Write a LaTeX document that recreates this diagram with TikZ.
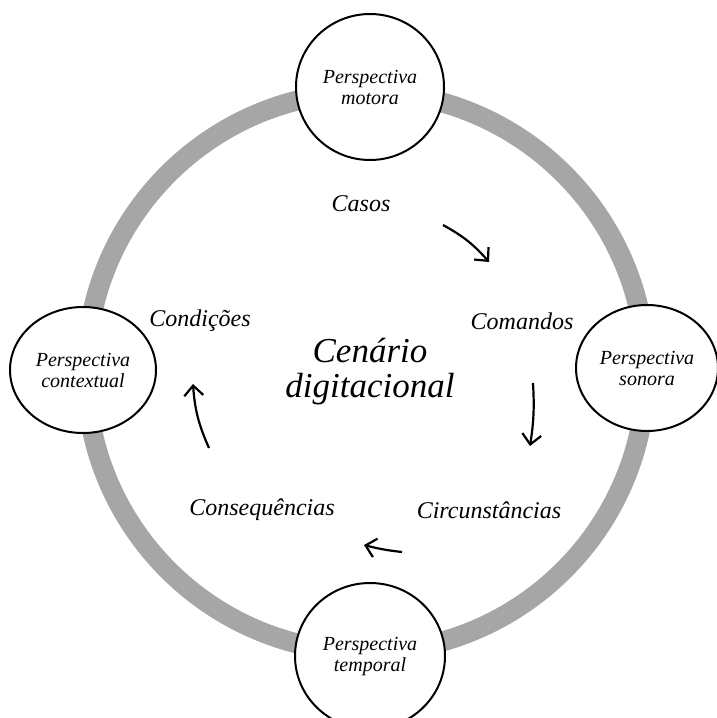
\documentclass[tikz,border=0pt]{standalone}
\usepackage{fontspec}
\setmainfont{Liberation Serif}
\usetikzlibrary{shapes.geometric,arrows.meta}
\definecolor{ringgray}{HTML}{A6A6A6}
\tikzset{
  persp/.style={ellipse, draw=black, line width=2pt, fill=white, inner sep=0pt,
    align=center, font=\fontsize{20}{21}\selectfont\itshape},
  lbl/.style={font=\fontsize{24}{26}\selectfont\itshape, inner sep=0pt},
  flow/.style={line width=2.2pt, -{Straight Barb[length=10pt,width=19pt,line width=2.2pt]}}
}
\begin{document}
\begin{tikzpicture}[x=1pt,y=-1pt]
\useasboundingbox (0,0) rectangle (717,718);
\draw[ringgray, line width=20pt] (366,372) ellipse [x radius=280, y radius=280];
\node[persp, minimum width=148pt, minimum height=146pt] (top) at (370,87) {Perspectiva\\motora};
\node[persp, minimum width=146pt, minimum height=126pt] (left) at (83,370) {Perspectiva\\contextual};
\node[persp, minimum width=142pt, minimum height=126pt] (right) at (647,368) {Perspectiva\\sonora};
\node[persp, minimum width=150pt, minimum height=146pt] (bottom) at (370,656) {Perspectiva\\temporal};
\node[lbl] (casos) at (361,204) {Casos};
\node[lbl] (comandos) at (522,321) {Comandos};
\node[lbl] (condicoes) at (200,321) {Condições};
\node[lbl] (consequencias) at (262,510) {Consequências};
\node[lbl] (circunstancias) at (489,510) {Circunstâncias};
\node[font=\fontsize{35}{35}\selectfont\itshape, align=center, inner sep=0pt] (title) at (370,372) {Cenário\\digitacional};
\coordinate (a1s) at (443,225); \coordinate (a1e) at (489,262);
\coordinate (a2s) at (533,383); \coordinate (a2e) at (530,446);
\coordinate (a3s) at (402,552); \coordinate (a3e) at (364,545);
\coordinate (a4s) at (209,448); \coordinate (a4e) at (193,384);
\draw[flow] (a1s) to[bend left=10] (a1e);
\draw[flow] (a2s) to[bend left=6] (a2e);
\draw[flow] (a3s) to[bend left=4] (a3e);
\draw[flow] (a4s) to[bend left=10] (a4e);
\end{tikzpicture}
\end{document}
